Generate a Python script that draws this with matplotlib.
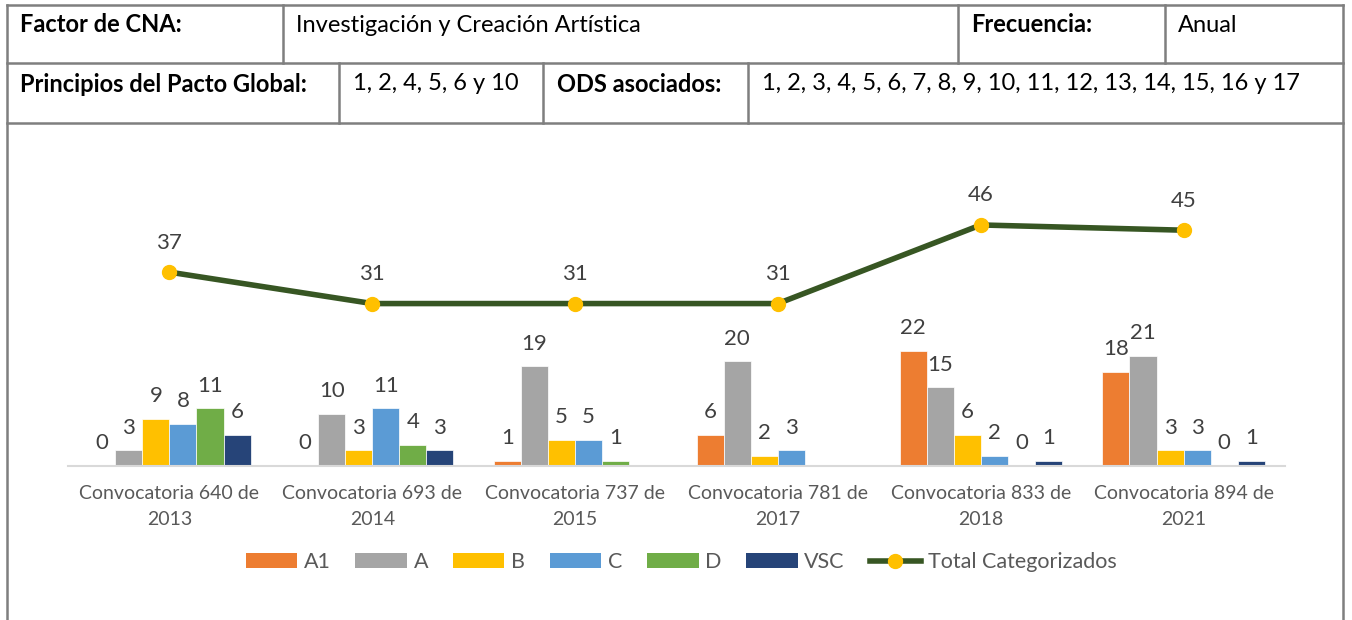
import matplotlib
matplotlib.use("Agg")
import matplotlib.pyplot as plt
from matplotlib.lines import Line2D
from matplotlib.patches import Patch
import numpy as np

plt.rcParams['font.family'] = ['Lato', 'DejaVu Sans']

# Datos del indicador
convocatorias = ["Convocatoria 640 de\n2013", "Convocatoria 693 de\n2014",
                 "Convocatoria 737 de\n2015", "Convocatoria 781 de\n2017",
                 "Convocatoria 833 de\n2018", "Convocatoria 894 de\n2021"]
cat_a1 = [0, 0, 1, 6, 22, 18]
cat_a = [3, 10, 19, 20, 15, 21]
cat_b = [9, 3, 5, 2, 6, 3]
cat_c = [8, 11, 5, 3, 2, 3]
cat_d = [11, 4, 1, None, 0, 0]
cat_vsc = [6, 3, None, None, 1, 1]
total = [37, 31, 31, 31, 46, 45]

series = [("A1", cat_a1, "#ED7D31"), ("A", cat_a, "#A5A5A5"),
          ("B", cat_b, "#FFC000"), ("C", cat_c, "#5B9BD5"),
          ("D", cat_d, "#70AD47"), ("VSC", cat_vsc, "#264478")]

W, H = 1352, 620
fig = plt.figure(figsize=(W / 100, H / 100), dpi=100)

# capa de fondo en pixeles para la tabla de encabezado
bg = fig.add_axes([0, 0, 1, 1])
bg.set_xlim(0, W)
bg.set_ylim(H, 0)
bg.axis("off")

grid = "#7F7F7F"
lw = 1.8
for y in (5, 63, 123):
    bg.plot([7, 1343], [y, y], color=grid, lw=lw)
bg.plot([7, 7], [5, H], color=grid, lw=lw)
bg.plot([1343, 1343], [5, H], color=grid, lw=lw)
for x in (283, 958, 1165):
    bg.plot([x, x], [5, 63], color=grid, lw=lw)
for x in (339, 543, 748):
    bg.plot([x, x], [63, 123], color=grid, lw=lw)

tfs = 17
txt = "#000000"
bg.text(20, 25, "Factor de CNA:", fontsize=tfs, fontweight="bold", va="center", color=txt)
bg.text(296, 25, "Investigación y Creación Artística", fontsize=tfs, va="center", color=txt)
bg.text(971, 25, "Frecuencia:", fontsize=tfs, fontweight="bold", va="center", color=txt)
bg.text(1178, 25, "Anual", fontsize=tfs, va="center", color=txt)
bg.text(20, 84, "Principios del Pacto Global:", fontsize=tfs, fontweight="bold", va="center", color=txt)
bg.text(353, 84, "1, 2, 4, 5, 6 y 10", fontsize=tfs, va="center", color=txt)
bg.text(557, 84, "ODS asociados:", fontsize=tfs, fontweight="bold", va="center", color=txt)
bg.text(762, 84, "1, 2, 3, 4, 5, 6, 7, 8, 9, 10, 11, 12, 13, 14, 15, 16 y 17",
        fontsize=tfs, va="center", color=txt)

# grafico de barras + linea
left, right, base, top = 68, 1285, 466, 204
ax = fig.add_axes([left / W, 1 - base / H, (right - left) / W, (base - top) / H])
ax.set_xlim(-0.5, 5.5)
ax.set_ylim(0, 50)
for s in ("top", "right", "left"):
    ax.spines[s].set_visible(False)
ax.spines["bottom"].set_color("#D9D9D9")
ax.spines["bottom"].set_linewidth(1.5)
ax.set_yticks([])
ax.patch.set_alpha(0)

lab = "#404040"
fs = 16
x = np.arange(len(convocatorias))
bw = 0.8 / 6
for i, (name, vals, col) in enumerate(series):
    off = (i - 2.5) * bw
    for xi, v in zip(x, vals):
        if v is None:
            continue
        ax.bar(xi + off, v, width=bw, color=col, edgecolor="white", linewidth=0.5)
        ax.annotate(str(v), (xi + off, v), xytext=(0, 12), textcoords="offset points",
                    ha="center", va="baseline", fontsize=fs, color=lab)

ax.plot(x, total, color="#375623", lw=4, marker="o", markersize=10,
        markerfacecolor="#FFC000", markeredgecolor="#FFC000", clip_on=False, zorder=5)
for xi, v in zip(x, total):
    ax.annotate(str(v), (xi, v), xytext=(0, 17), textcoords="offset points",
                ha="center", va="baseline", fontsize=fs, color=lab, annotation_clip=False)

ax.set_xticks(x)
ax.set_xticklabels(convocatorias, fontsize=14, color="#595959", linespacing=1.6)
ax.tick_params(axis="x", length=0, pad=14)

handles = [Patch(facecolor=c, label=n) for n, _, c in series]
handles.append(Line2D([], [], color="#375623", lw=4, marker="o", markersize=10,
                      markerfacecolor="#FFC000", markeredgecolor="#FFC000",
                      label="Total Categorizados"))
fig.legend(handles=handles, loc="center", bbox_to_anchor=(681 / W, 1 - 562 / H),
           ncol=7, frameon=False, fontsize=15.5, handlelength=2.4, handleheight=0.65,
           handletextpad=0.3, columnspacing=1.15, labelcolor="#595959")

fig.savefig("out.png", dpi=100)
